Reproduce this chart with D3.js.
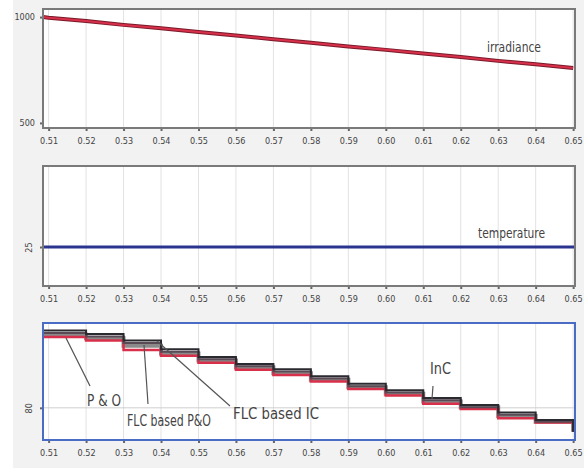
<!DOCTYPE html>
<html>
<head>
<meta charset="utf-8">
<script src="https://cdn.jsdelivr.net/npm/d3@7"></script>
<style>
  body { margin: 0; background: #fff; }
  svg text { font-family: "DejaVu Sans Condensed", "Liberation Sans Narrow", "Liberation Sans", sans-serif; fill: #444; }
</style>
</head>
<body>
<svg id="chart" width="584" height="468"></svg>
<script>
// x ticks shared by all three panels
const xTicks = [0.51, 0.52, 0.53, 0.54, 0.55, 0.56, 0.57, 0.58, 0.59, 0.60, 0.61, 0.62, 0.63, 0.64, 0.65];
const xDomain = [0.5085, 0.6505];

// panel 1: irradiance (W/m2)
const irrTime = [0.5085, 0.51, 0.52, 0.53, 0.54, 0.55, 0.56, 0.57, 0.58, 0.59, 0.60, 0.61, 0.62, 0.63, 0.64, 0.65];
const irradiance = [1000, 997, 981, 963, 947, 929, 913, 895, 879, 861, 845, 828, 811, 793, 777, 759];
const irrTicks = [500, 1000];

// panel 2: temperature
const tempTime = [0.5085, 0.6505];
const temperature = [25, 25];
const tempTicks = [25];

// panel 3: power, stepped
const stepTime = [0.5085, 0.52, 0.53, 0.54, 0.55, 0.56, 0.57, 0.58, 0.59, 0.60, 0.61, 0.62, 0.63, 0.64, 0.65];
const flcIC  = [93.2, 92.6, 91.5, 90.0, 88.7, 87.5, 86.6, 85.4, 84.1, 83.0, 81.7, 80.5, 79.2, 77.9, 75.9];
const inc    = [92.8, 92.2, 91.1, 89.6, 88.3, 87.1, 86.2, 85.0, 83.7, 82.6, 81.3, 80.1, 78.8, 77.6, 75.9];
const flcPO  = [92.5, 91.9, 90.6, 89.3, 88.1, 86.9, 85.9, 84.8, 83.5, 82.4, 81.1, 80.1, 78.6, 77.6, 75.9];
const po     = [92.1, 91.5, 89.9, 88.9, 87.7, 86.5, 85.6, 84.5, 83.2, 82.1, 80.7, 79.8, 78.2, 77.5, 75.9];
const powerTicks = [80];

const svg = d3.select('#chart');
svg.append('rect').attr('x', 13).attr('y', 0).attr('width', 571).attr('height', 468).attr('fill', '#f2f2f2');

const left = 43, right = 575;
const x = d3.scaleLinear().domain(xDomain).range([left, right]);

function panel(top, bottom, yDomain, yTicks, borderColor, rotateY, hGrid) {
  const y = d3.scaleLinear().domain(yDomain).range([bottom, top]);
  const g = svg.append('g');
  g.append('rect')
    .attr('x', left).attr('y', top)
    .attr('width', right - left).attr('height', bottom - top)
    .attr('fill', '#fff');
  // vertical grid
  g.selectAll('.vg').data(xTicks).join('line')
    .attr('x1', d => x(d)).attr('x2', d => x(d))
    .attr('y1', top).attr('y2', bottom)
    .attr('stroke', '#e2e2e2').attr('stroke-width', 1);
  if (hGrid) {
    g.selectAll('.hg').data(yTicks).join('line')
      .attr('x1', left).attr('x2', right)
      .attr('y1', d => y(d)).attr('y2', d => y(d))
      .attr('stroke', '#cfcfcf').attr('stroke-width', 1);
  }
  // x axis
  const xa = g.append('g')
    .attr('transform', `translate(0,${bottom})`)
    .call(d3.axisBottom(x).tickValues(xTicks).tickFormat(d3.format('.2f')).tickSize(3).tickPadding(7));
  xa.select('.domain').remove();
  xa.selectAll('line').attr('stroke', '#666').attr('stroke-width', 2);
  xa.selectAll('text').style('font-size', '9px').attr('fill', '#555');
  // y axis
  const ya = g.append('g')
    .attr('transform', `translate(${left},0)`)
    .call(d3.axisLeft(y).tickValues(yTicks).tickFormat(d3.format('d')).tickSize(3).tickPadding(5));
  ya.select('.domain').remove();
  ya.selectAll('line').attr('stroke', '#666').attr('stroke-width', 2);
  ya.selectAll('text').style('font-size', '9px').attr('fill', '#555');
  if (rotateY) {
    ya.selectAll('text')
      .attr('text-anchor', 'middle')
      .attr('dy', '0.32em')
      .attr('x', -14).attr('y', 0)
      .attr('transform', 'rotate(-90, -14, 0)');
  }
  return { g, y, top, bottom, borderColor };
}

function border(p) {
  p.g.append('rect')
    .attr('x', left).attr('y', p.top)
    .attr('width', right - left).attr('height', p.bottom - p.top)
    .attr('fill', 'none').attr('stroke', p.borderColor).attr('stroke-width', 2);
}

function label(g, txt, lx, ly, w, size) {
  g.append('text').attr('x', lx).attr('y', ly)
    .style('font-size', size + 'px').attr('fill', '#333')
    .attr('textLength', w).attr('lengthAdjust', 'spacingAndGlyphs')
    .text(txt);
}

// ---- panel 1
const p1 = panel(9, 128, [476, 1038], irrTicks, '#7a7a7a', false, false);
const irrLine = d3.line().x((d, i) => x(irrTime[i])).y(d => p1.y(d));
p1.g.append('path').datum(irradiance)
  .attr('d', irrLine).attr('fill', 'none').attr('stroke', '#7a1a2a').attr('stroke-width', 4);
p1.g.append('path').datum(irradiance)
  .attr('d', irrLine).attr('fill', 'none').attr('stroke', '#d8304a').attr('stroke-width', 2);
border(p1);
label(p1.g, 'irradiance', 487, 52, 54, 14);

// ---- panel 2
const p2 = panel(166, 286, [21.1, 33.1], tempTicks, '#7a7a7a', true, false);
const tempLine = d3.line().x((d, i) => x(tempTime[i])).y(d => p2.y(d));
p2.g.append('path').datum(temperature)
  .attr('d', tempLine).attr('fill', 'none').attr('stroke', '#2a3590').attr('stroke-width', 3);
border(p2);
label(p2.g, 'temperature', 478, 238, 67, 14);

// ---- panel 3
const p3 = panel(323, 440, [74.5, 94.5], powerTicks, '#4a6cc4', true, true);
const stepLine = d3.line().curve(d3.curveStepAfter).x((d, i) => x(stepTime[i])).y(d => p3.y(d));
const series = [
  { name: 'FLC based P&O', values: flcPO, color: '#8a8a8a', w: 4 },
  { name: 'P&O', values: po, color: '#d8304a', w: 2.5 },
  { name: 'InC', values: inc, color: '#5a4a55', w: 2 },
  { name: 'FLC based IC', values: flcIC, color: '#2a2a30', w: 2 }
];
p3.g.selectAll('.step').data(series).join('path')
  .attr('d', d => stepLine(d.values))
  .attr('fill', 'none').attr('stroke', d => d.color).attr('stroke-width', d => d.w);
border(p3);

// annotation labels with leader lines
const notes = [
  { text: 'P & O', tx: 87, ty: 406, w: 34, from: [66, 338], to: [90, 386] },
  { text: 'FLC based P&O', tx: 127, ty: 426, w: 84, from: [144, 345], to: [148, 404] },
  { text: 'FLC based IC', tx: 233, ty: 419, w: 86, from: [157, 341], to: [230, 406] },
  { text: 'InC', tx: 430, ty: 374, w: 21, from: [433, 386], to: [432, 399] }
];
const ng = svg.append('g');
ng.selectAll('line').data(notes).join('line')
  .attr('x1', d => d.from[0]).attr('y1', d => d.from[1])
  .attr('x2', d => d.to[0]).attr('y2', d => d.to[1])
  .attr('stroke', '#555').attr('stroke-width', 1.2);
notes.forEach(d => label(ng, d.text, d.tx, d.ty, d.w, 15));
</script>
</body>
</html>
